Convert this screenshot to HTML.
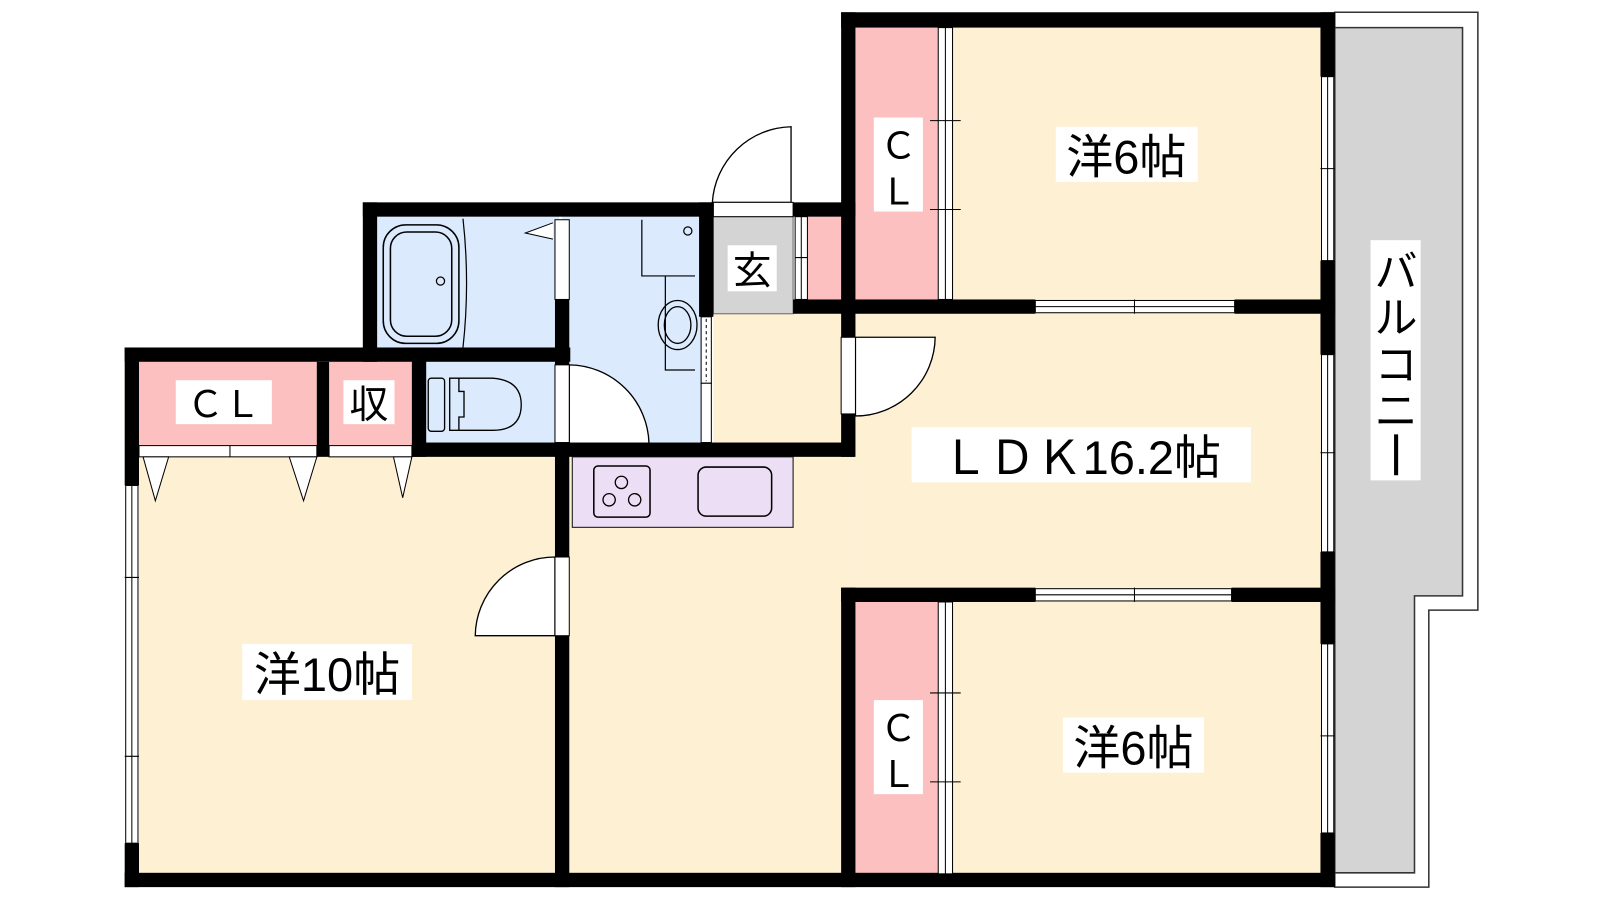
<!DOCTYPE html>
<html><head><meta charset="utf-8"><style>
html,body{margin:0;padding:0;background:#fff;width:1600px;height:900px;overflow:hidden}
svg{display:block}
text{font-family:"Liberation Sans","Noto Sans CJK JP",sans-serif;fill:#000}
</style></head><body>
<svg width="1600" height="900" viewBox="0 0 1565.5 880.6" xmlns="http://www.w3.org/2000/svg">
<path d="M1306,12 H1446 V597 H1398 V868 H1306 Z" fill="#fff" stroke="#333" stroke-width="1.5"/>
<path d="M1306,27 H1431 V583 H1384 V854 H1306 Z" fill="#d4d4d4" stroke="#333" stroke-width="1.5"/>

<rect x="136" y="447" width="414" height="410" fill="#fdf0d3"/>
<rect x="550" y="447" width="280" height="410" fill="#fdf0d3"/>
<rect x="830" y="300" width="470" height="280" fill="#fdf0d3"/>
<rect x="698" y="307" width="130" height="130" fill="#fdf0d3"/>
<rect x="918" y="27" width="380" height="270" fill="#fdf0d3"/>
<rect x="918" y="585" width="380" height="272" fill="#fdf0d3"/>
<rect x="837" y="27" width="81" height="268" fill="#fdc0c0"/>
<rect x="837" y="589" width="81" height="268" fill="#fdc0c0"/>
<rect x="136" y="354" width="176" height="82" fill="#fdc0c0"/>
<rect x="322" y="354" width="82" height="82" fill="#fdc0c0"/>
<rect x="369" y="212" width="178" height="130" fill="#dbeafd"/>
<rect x="550" y="212" width="136" height="224" fill="#dbeafd"/>
<rect x="415" y="354" width="132" height="80" fill="#dbeafd"/>
<rect x="698" y="212" width="78" height="95" fill="#d4d4d4" stroke="#666" stroke-width="1"/>
<rect x="790" y="212" width="34" height="82" fill="#fdc0c0"/>

<rect x="560" y="447" width="216" height="69" fill="#ecdff5" stroke="#333" stroke-width="1.2"/>
<rect x="581" y="456" width="55" height="50" rx="4" fill="none" stroke="#000" stroke-width="1.5"/>
<g fill="none" stroke="#000" stroke-width="1.3">
<circle cx="608" cy="472" r="6"/><circle cx="596" cy="489" r="6"/><circle cx="621" cy="489" r="6"/>
</g>
<rect x="683" y="457" width="72" height="48" rx="8" fill="none" stroke="#000" stroke-width="1.5"/>

<rect x="375" y="220" width="74" height="116" rx="22" fill="none" stroke="#000" stroke-width="1.5"/>
<rect x="382" y="227" width="60" height="102" rx="16" fill="none" stroke="#000" stroke-width="1.5"/>
<circle cx="431" cy="275" r="4" fill="none" stroke="#000" stroke-width="1.2"/>
<path d="M453,214 Q460,277 453,340" fill="none" stroke="#000" stroke-width="1.2"/>
<path d="M541,218 L514,228 L541,234" fill="#fff" stroke="#000" stroke-width="1"/>
<path d="M628,215 V270 H680 M651,270 V362 H680" fill="none" stroke="#000" stroke-width="1.2"/>
<circle cx="673" cy="226" r="4" fill="none" stroke="#000" stroke-width="1.2"/>
<ellipse cx="663" cy="318" rx="19" ry="24" fill="none" stroke="#000" stroke-width="1.3"/>
<ellipse cx="663" cy="318" rx="13" ry="18" fill="none" stroke="#000" stroke-width="1.3"/>
<rect x="419" y="370" width="16" height="52" rx="3" fill="none" stroke="#000" stroke-width="1.3"/>
<path d="M440,370 H482 Q510,372 510,396 Q510,421 482,421 H440 Z" fill="none" stroke="#000" stroke-width="1.3"/>
<path d="M449,370 V383 H454 V408 H449 V421" fill="none" stroke="#000" stroke-width="1.3"/>

<g fill="#fff" stroke="#000" stroke-width="1.3">
<path d="M697,198 A79,79 0 0 1 774,124 V198 Z"/>
<path d="M557,357 A79,79 0 0 1 635,434 H557 Z"/>
<path d="M837,330 H915 A78,78 0 0 1 837,407 Z"/>
<path d="M543,545 A78,78 0 0 0 465,622 H543 Z"/>
</g>

<g fill="#000">
<rect x="122" y="340" width="14" height="135"/>
<rect x="122" y="825" width="14" height="43"/>
<rect x="122" y="340" width="436" height="14"/>
<rect x="122" y="854" width="1184" height="14"/>
<rect x="310" y="354" width="12" height="93"/>
<rect x="403" y="340" width="14" height="107"/>
<rect x="403" y="433" width="433" height="14"/>
<rect x="543" y="433" width="14" height="112"/>
<rect x="543" y="622" width="14" height="246"/>
<rect x="355" y="198" width="343" height="14"/>
<rect x="355" y="198" width="14" height="156"/>
<rect x="543" y="293" width="14" height="64"/>
<rect x="684" y="198" width="14" height="112"/>
<rect x="776" y="198" width="61" height="14"/>
<rect x="776" y="293" width="61" height="14"/>
<rect x="823" y="12" width="14" height="318"/>
<rect x="823" y="405" width="14" height="42"/>
<rect x="823" y="575" width="14" height="293"/>
<rect x="823" y="12" width="483" height="15"/>
<rect x="1292" y="12" width="14" height="63"/>
<rect x="1292" y="255" width="14" height="92"/>
<rect x="1292" y="540" width="14" height="90"/>
<rect x="1292" y="815" width="14" height="53"/>
<rect x="823" y="293" width="190" height="14"/>
<rect x="1208" y="293" width="98" height="14"/>
<rect x="823" y="575" width="190" height="14"/>
<rect x="1205" y="575" width="101" height="14"/>
</g>

<g fill="#fff" stroke="#000" stroke-width="1">
<rect x="123" y="475" width="12" height="350"/>
<rect x="1293" y="75" width="12" height="180"/>
<rect x="1293" y="347" width="12" height="193"/>
<rect x="1293" y="630" width="12" height="185"/>
<rect x="1013" y="294" width="195" height="12"/>
<rect x="1013" y="576" width="192" height="12"/>
<rect x="918" y="27" width="14" height="266"/>
<rect x="918" y="589" width="14" height="266"/>
<rect x="136" y="436" width="174" height="11"/>
<rect x="322" y="436" width="81" height="11"/>
<rect x="543" y="215" width="14" height="78"/>
<rect x="543" y="357" width="14" height="76"/>
<rect x="543" y="545" width="14" height="77"/>
<rect x="823" y="330" width="14" height="75"/>
<rect x="698" y="198" width="78" height="14"/>
<rect x="686" y="310" width="10" height="65"/>
<rect x="686" y="375" width="10" height="58"/>
<rect x="778" y="212" width="12" height="81"/>
</g>
<g stroke="#000" stroke-width="1" fill="none">
<path d="M129,475 V825 M1299,75 V255 M1299,347 V540 M1299,630 V815 M1013,300 H1208 M1013,582 H1205 M925,27 V293 M925,589 V855 M225,436 V447 M784,212 V293"/>
<path d="M122,565 H136 M122,740 H136 M1292,165 H1306 M1292,443 H1306 M1292,720 H1306 M1110,293 V307 M1110,575 V589 M910,118 H940 M910,205 H940 M910,678 H940 M910,765 H940 M778,252 H790"/>
<path d="M691,312 V373" stroke-dasharray="3,3"/>
</g>
<g fill="#fff" stroke="#000" stroke-width="1">
<path d="M140,447 L165,447 L152,490 Z"/>
<path d="M283,447 L310,447 L297,490 Z"/>
<path d="M385,447 L403,447 L394,487 Z"/>
</g>

<g fill="#fff">
<rect x="1033" y="124" width="139" height="54"/>
<rect x="1341" y="235" width="49" height="235"/>
<rect x="892" y="418" width="332" height="54"/>
<rect x="1040" y="702" width="138" height="54"/>
<rect x="237" y="630" width="166" height="55"/>
<rect x="855" y="115" width="48" height="92"/>
<rect x="855" y="685" width="48" height="92"/>
<rect x="172" y="372" width="94" height="43"/>
<rect x="336" y="372" width="50" height="43"/>
<rect x="712" y="240" width="48" height="45"/>
</g>
<text x="1102" y="170" font-size="46" text-anchor="middle">洋6帖</text>
<text x="1109" y="748" font-size="46" text-anchor="middle">洋6帖</text>
<text x="320" y="676" font-size="46" text-anchor="middle">洋10帖</text>
<text x="1058" y="464" font-size="46" text-anchor="middle">ＬＤＫ16.2帖</text>
<text x="879" y="155" font-size="36" text-anchor="middle">Ｃ</text>
<text x="879" y="200" font-size="36" text-anchor="middle">Ｌ</text>
<text x="879" y="725" font-size="36" text-anchor="middle">Ｃ</text>
<text x="879" y="770" font-size="36" text-anchor="middle">Ｌ</text>
<text x="219" y="408" font-size="36" text-anchor="middle">ＣＬ</text>
<text x="361" y="409" font-size="38" text-anchor="middle">収</text>
<text x="736" y="278" font-size="38" text-anchor="middle">玄</text>
<text x="1366" y="281" font-size="42" text-anchor="middle">バ</text>
<text x="1366" y="326" font-size="42" text-anchor="middle">ル</text>
<text x="1366" y="372" font-size="42" text-anchor="middle">コ</text>
<text x="1366" y="417" font-size="42" text-anchor="middle">ニ</text>
<rect x="1364" y="425" width="4" height="40" fill="#000"/>
</svg>
</body></html>
